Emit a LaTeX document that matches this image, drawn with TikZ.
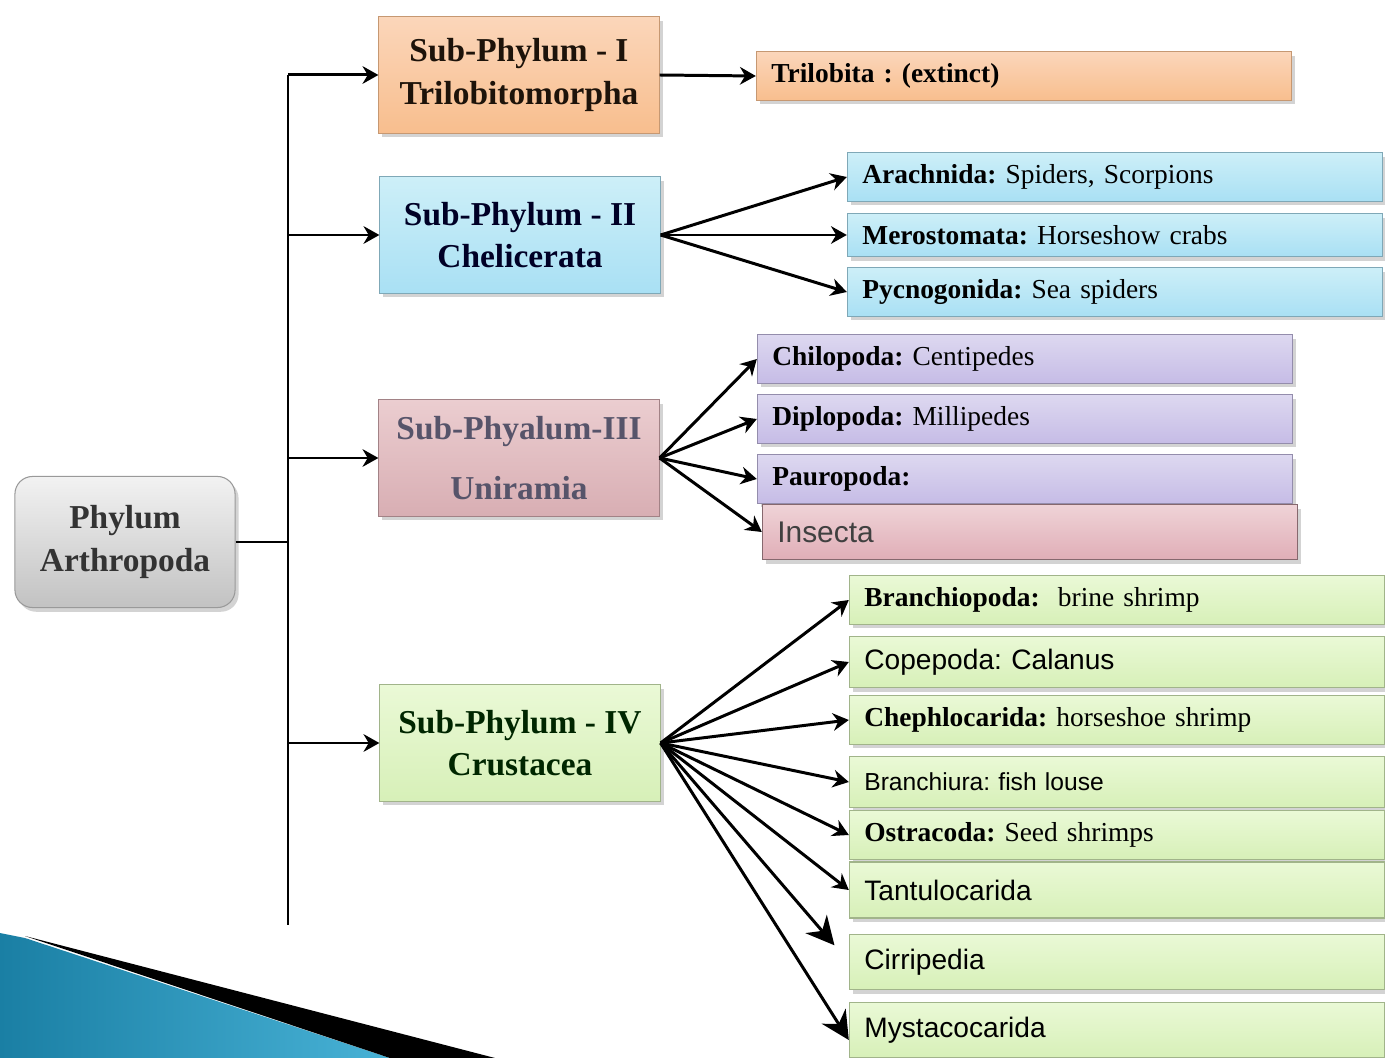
\documentclass[tikz,border=0pt]{standalone}
\usepackage{fontspec}
\setmainfont{Liberation Serif}
\newfontfamily\labelsans{Liberation Sans}
\usepackage{xcolor}
\usepackage{tikz}
\usetikzlibrary{arrows.meta, positioning, shadows}
\frenchspacing

\definecolor{phytop}{HTML}{F2F2F2}
\definecolor{phybot}{HTML}{C2C2C2}
\definecolor{orgtop}{HTML}{FBD6BA}
\definecolor{orgbot}{HTML}{F8BE8E}
\definecolor{blutop}{HTML}{CDEFF8}
\definecolor{blubot}{HTML}{A9E0F4}
\definecolor{pnktop}{HTML}{EBCDD0}
\definecolor{pnkbot}{HTML}{D8AEB3}
\definecolor{lavtop}{HTML}{DDD8F0}
\definecolor{lavbot}{HTML}{C6BCE6}
\definecolor{instop}{HTML}{EFD3D7}
\definecolor{insbot}{HTML}{E0AEB7}
\definecolor{grntop}{HTML}{EAF9D6}
\definecolor{grnbot}{HTML}{D7F0B8}
\definecolor{swdark}{HTML}{1A7FA4}
\definecolor{swlight}{HTML}{48B2D6}
\definecolor{unitext}{HTML}{57546A}

\begin{document}
\begin{tikzpicture}[x=0.01cm, y=-0.01cm, >={Stealth[length=4.5pt, width=5pt]}, font=\fontsize{7.8}{9}\selectfont]
\tikzstyle{box} = [rectangle, line width=0.3pt, drop shadow={opacity=0.35, shadow xshift=1pt, shadow yshift=-1.2pt}]
\tikzstyle{sub} = [box, minimum width=2.8cm, minimum height=1.16cm, align=center, font=\fontsize{9.5}{12}\selectfont\bfseries]
\tikzstyle{leaf} = [box, text width=5.05cm, inner xsep=0.15cm, align=left]
\tikzstyle{org} = [top color=orgtop, bottom color=orgbot, draw=orgbot!80!black]
\tikzstyle{blu} = [top color=blutop, bottom color=blubot, draw=blubot!75!black]
\tikzstyle{pnk} = [top color=pnktop, bottom color=pnkbot, draw=pnkbot!75!black]
\tikzstyle{lav} = [top color=lavtop, bottom color=lavbot, draw=lavbot!75!black]
\tikzstyle{ins} = [top color=instop, bottom color=insbot, draw=insbot!60!black]
\tikzstyle{grn} = [top color=grntop, bottom color=grnbot, draw=grnbot!75!black]
\tikzstyle{link} = [line width=0.85pt]

\useasboundingbox (0,0) rectangle (1385,1058);

% corner swoosh
\shade[left color=swdark, right color=swlight] (0,933) -- (25,938) -- (390,1058) -- (0,1058) -- cycle;
\fill[black] (25,936) -- (495,1058) -- (390,1058) -- cycle;

\node[box, rounded corners=5pt, top color=phytop, bottom color=phybot, draw=gray!80, minimum width=2.2cm, minimum height=1.31cm, align=center, font=\fontsize{9.5}{12}\selectfont\bfseries, text=black!80]
				at (125, 542)	(phy)	{Phylum\\Arthropoda};

\node[sub, org, text={black!85!brown}]	at (519, 75)	(sp1)	{Sub-Phylum - I\\Trilobitomorpha};
\node[sub, blu, text={black!85!blue}]	at (520, 235)	(sp2)	{Sub-Phylum - II\\Chelicerata};
\node[sub, pnk, text=unitext, font=\fontsize{9.5}{17}\selectfont\bfseries]
				at (519, 458)	(sp3)	{Sub-Phyalum-III\\Uniramia};
\node[sub, grn, text={black!85!green}]	at (520, 743)	(sp4)	{Sub-Phylum - IV\\Crustacea};

% subphylum I
\node[leaf, org, minimum height=0.42cm]	at (1024, 76)	(tri)	{\textbf{Trilobita : (extinct)}};

% subphylum II
\node[leaf, blu, minimum height=0.40cm]	at (1115, 177)	(ara)	{\textbf{Arachnida:} Spiders, Scorpions};
\node[leaf, blu, minimum height=0.40cm]	at (1115, 235)	(mer)	{\textbf{Merostomata:} Horseshow crabs};
\node[leaf, blu, minimum height=0.40cm]	at (1115, 292)	(pyc)	{\textbf{Pycnogonida:} Sea spiders};

% subphylum III
\node[leaf, lav, minimum height=0.42cm]	at (1025, 359)	(chi)	{\textbf{Chilopoda:} Centipedes};
\node[leaf, lav, minimum height=0.40cm]	at (1025, 419)	(dip)	{\textbf{Diplopoda:} Millipedes};
\node[leaf, lav, minimum height=0.40cm]	at (1025, 479)	(pau)	{\textbf{Pauropoda:}};
\node[leaf, ins, minimum height=0.55cm, font=\labelsans\fontsize{8.5}{10}\selectfont, text=black!75]
				at (1030, 532)	(ins)	{Insecta};

% subphylum IV
\node[leaf, grn, minimum height=0.40cm]	at (1117, 600)	(brp)	{\textbf{Branchiopoda:}~~brine shrimp};
\node[leaf, grn, minimum height=0.51cm, font=\labelsans\fontsize{8}{10}\selectfont]
				at (1117, 662)	(cop)	{Copepoda: Calanus};
\node[leaf, grn, minimum height=0.40cm]	at (1117, 720)	(cep)	{\textbf{Chephlocarida:} horseshoe shrimp};
\node[leaf, grn, minimum height=0.51cm, font=\labelsans\fontsize{7}{9}\selectfont]
				at (1117, 782)	(bru)	{Branchiura: fish louse};
\node[leaf, grn, minimum height=0.40cm]	at (1117, 835)	(ost)	{\textbf{Ostracoda:} Seed shrimps};
\node[leaf, grn, minimum height=0.56cm, font=\labelsans\fontsize{8}{10}\selectfont]
				at (1117, 890)	(tan)	{Tantulocarida};
\node[leaf, grn, minimum height=0.55cm, font=\labelsans\fontsize{8}{10}\selectfont]
				at (1117, 962)	(cir)	{Cirripedia};
\node[leaf, grn, minimum height=0.55cm, font=\labelsans\fontsize{8}{10}\selectfont]
				at (1117, 1030)	(mys)	{Mystacocarida};

% trunk
\coordinate			(top)	at (288, 75);
\coordinate			(bot)	at (288, 925);
\coordinate			(mid)	at (288, 542);

\draw[link] (phy.east) -- (mid);
\draw[link] (top) -- (bot);

\path[link, ->]
(top)			edge	(sp1.west)
(top |- sp2)	edge	(sp2.west)
(top |- sp3)	edge	(sp3.west)
(top |- sp4)	edge	(sp4.west)
(sp1.east)		edge	(tri.west)
(sp2.east)		edge	(ara.west)
(sp2.east)		edge	(mer.west)
(sp2.east)		edge	(pyc.west)
(sp3.east)		edge	(chi.west)
(sp3.east)		edge	(dip.west)
(sp3.east)		edge	(pau.west)
(sp3.east)		edge	(ins.west)
(sp4.east)		edge	(brp.west)
(sp4.east)		edge	(cop.west)
(sp4.east)		edge	(cep.west)
(sp4.east)		edge	(bru.west)
(sp4.east)		edge	(ost.west)
(sp4.east)		edge	(tan.west);

\path[link, -{Stealth[length=8pt, width=8pt]}]
(sp4.east)		edge[shorten >=0.22cm]	(cir.west)
(sp4.east)		edge	([yshift=-0.1cm]mys.west);
\end{tikzpicture}
\end{document}
